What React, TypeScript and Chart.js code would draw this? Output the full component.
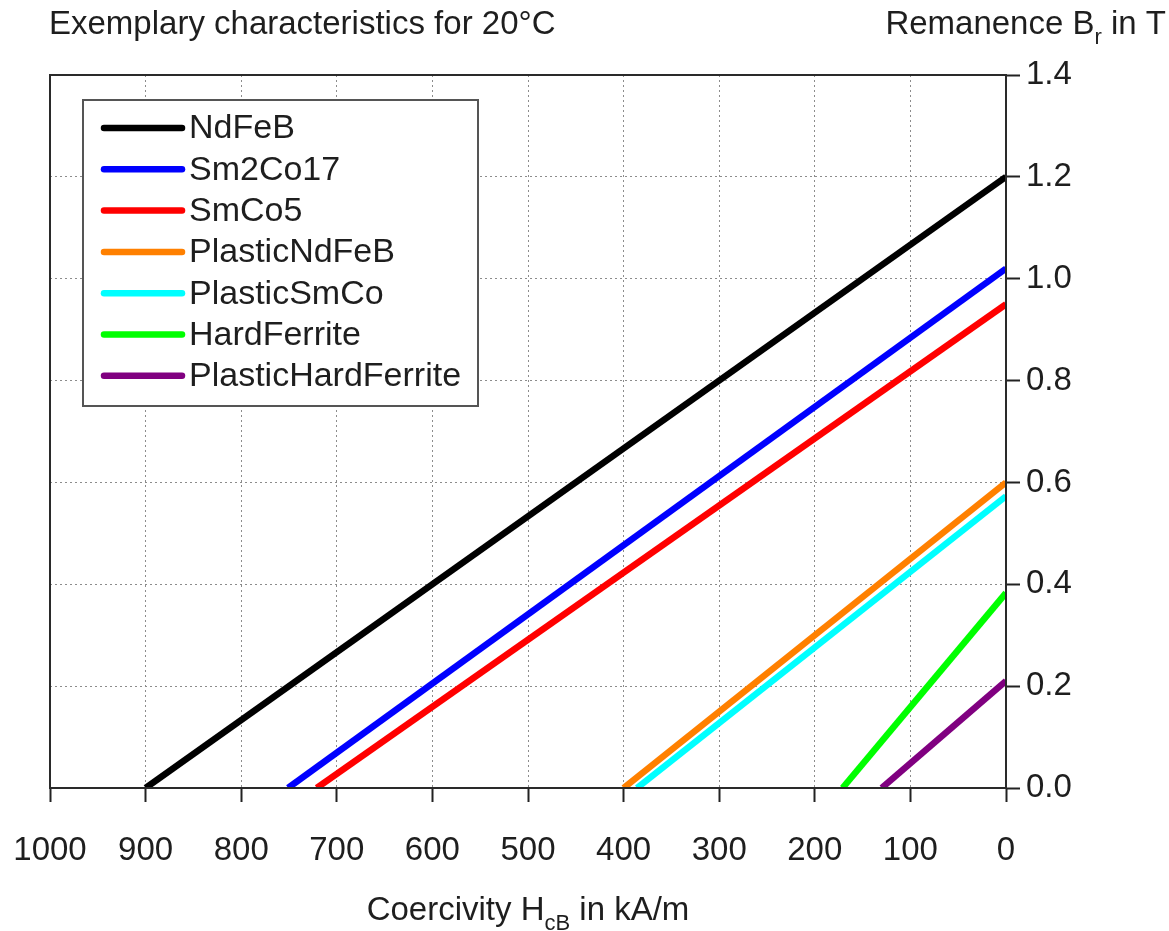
import React, { useEffect, useRef } from "react";
import { Chart, registerables } from "chart.js";

Chart.register(...registerables);

// Data
const seriesNames = ["NdFeB", "Sm2Co17", "SmCo5", "PlasticNdFeB", "PlasticSmCo", "HardFerrite", "PlasticHardFerrite"];
const seriesColors = ["#000000", "#0000ff", "#ff0000", "#ff8000", "#00ffff", "#00ff00", "#800080"];
// Coercivity H_cB (kA/m) where B = 0
const coercivity = [900, 751, 721, 400, 386, 171, 130];
// Remanence B_r (T) where H = 0
const remanence = [1.2, 1.02, 0.95, 0.6, 0.573, 0.383, 0.21];
const xTickValues = [0, 100, 200, 300, 400, 500, 600, 700, 800, 900, 1000];
const yTickValues = [0, 0.2, 0.4, 0.6, 0.8, 1.0, 1.2, 1.4];
const titleText = "Exemplary characteristics for 20°C";

const W = 1169;
const H = 931;
const FONT = '"Liberation Sans", Arial, sans-serif';
const TEXT = "#1e1e1e";

function drawSubText(ctx: CanvasRenderingContext2D, parts: [string, boolean][], x: number, y: number, align: "left" | "center" | "right") {
  const big = `33px ${FONT}`;
  const small = `22px ${FONT}`;
  let total = 0;
  for (const [t, sub] of parts) {
    ctx.font = sub ? small : big;
    total += ctx.measureText(t).width;
  }
  let cx = align === "left" ? x : align === "center" ? x - total / 2 : x - total;
  ctx.textAlign = "left";
  ctx.textBaseline = "alphabetic";
  for (const [t, sub] of parts) {
    ctx.font = sub ? small : big;
    ctx.fillText(t, cx, sub ? y + 10 : y);
    cx += ctx.measureText(t).width;
  }
}

const decorPlugin = {
  id: "decor",
  afterDraw(chart: any) {
    const ctx: CanvasRenderingContext2D = chart.ctx;
    const a = chart.chartArea;
    ctx.save();
    // frame
    ctx.strokeStyle = "#2a2a2a";
    ctx.lineWidth = 2;
    ctx.strokeRect(a.left, a.top, a.right - a.left, a.bottom - a.top);

    // legend box
    const lx = 83, ly = 100, lw = 395, lh = 306;
    ctx.fillStyle = "#ffffff";
    ctx.fillRect(lx, ly, lw, lh);
    ctx.strokeStyle = "#555555";
    ctx.lineWidth = 2;
    ctx.strokeRect(lx, ly, lw, lh);
    chart.data.datasets.forEach((ds: any, i: number) => {
      const yy = 128 + i * 41.3;
      ctx.strokeStyle = ds.borderColor;
      ctx.lineWidth = 6.5;
      ctx.lineCap = "round";
      ctx.beginPath();
      ctx.moveTo(104, yy);
      ctx.lineTo(182, yy);
      ctx.stroke();
      ctx.fillStyle = TEXT;
      ctx.font = `34px ${FONT}`;
      ctx.textAlign = "left";
      ctx.textBaseline = "middle";
      ctx.fillText(ds.label, 189, yy + 1);
    });

    // titles
    ctx.fillStyle = TEXT;
    ctx.font = `33px ${FONT}`;
    ctx.textAlign = "left";
    ctx.textBaseline = "alphabetic";
    ctx.fillText(titleText, 49, 34);
    drawSubText(ctx, [["Remanence B", false], ["r", true], [" in T", false]], 1166, 34, "right");
    drawSubText(ctx, [["Coercivity H", false], ["cB", true], [" in kA/m", false]], (a.left + a.right) / 2, 920, "center");
    ctx.restore();
  },
};

export default function App() {
  const ref = useRef<HTMLCanvasElement | null>(null);
  useEffect(() => {
    if (!ref.current) return;
    const datasets = seriesNames.map((name, i) => ({
      label: name,
      data: [
        { x: coercivity[i], y: 0 },
        { x: 0, y: remanence[i] },
      ],
      borderColor: seriesColors[i],
      backgroundColor: seriesColors[i],
      borderWidth: 6.5,
      pointRadius: 0,
      showLine: true,
      fill: false,
      tension: 0,
      clip: 0,
      borderCapStyle: "butt",
    }));
    const chart = new Chart(ref.current, {
      type: "scatter",
      data: { datasets } as any,
      options: {
        responsive: false,
        animation: false,
        events: [],
        layout: { autoPadding: false, padding: { left: 50, top: 75, right: 0, bottom: 0 } },
        plugins: { legend: { display: false }, tooltip: { enabled: false }, title: { display: false } },
        scales: {
          x: {
            type: "linear",
            reverse: true,
            min: 0,
            max: 1000,
            afterFit: (s: any) => { s.height = H - 788; },
            afterBuildTicks: (s: any) => { s.ticks = xTickValues.map((v) => ({ value: v })); },
            grid: { color: "#8c8c8c", lineWidth: 1, tickColor: "#222222", tickWidth: 2, tickLength: 14 },
            border: { display: false, dash: [2, 3] },
            ticks: {
              autoSkip: false,
              maxRotation: 0,
              padding: 29,
              color: TEXT,
              font: { family: FONT, size: 33 },
              callback: (v: any) => String(v),
            },
          },
          y: {
            type: "linear",
            position: "right",
            min: 0,
            max: 1.4,
            afterFit: (s: any) => { s.width = W - 1006; },
            afterBuildTicks: (s: any) => { s.ticks = yTickValues.map((v) => ({ value: v })); },
            grid: { color: "#8c8c8c", lineWidth: 1, tickColor: "#222222", tickWidth: 2, tickLength: 14 },
            border: { display: false, dash: [2, 3] },
            ticks: {
              autoSkip: false,
              padding: 6,
              color: TEXT,
              font: { family: FONT, size: 33 },
              callback: (v: any) => Number(v).toFixed(1),
            },
          },
        },
      } as any,
      plugins: [decorPlugin],
    });
    return () => chart.destroy();
  }, []);
  return (
    <div style={{ position: "fixed", left: 0, top: 0, width: W, height: H, background: "#ffffff" }}>
      <canvas ref={ref} width={W} height={H} style={{ display: "block", width: W, height: H }} />
    </div>
  );
}
